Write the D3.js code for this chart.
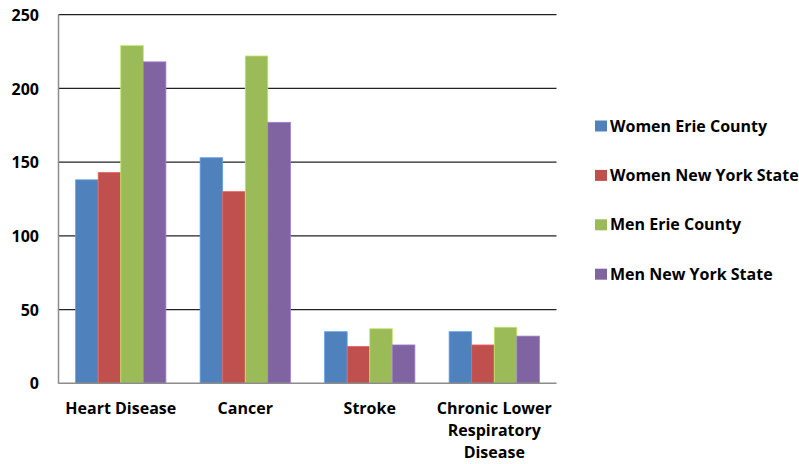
<!DOCTYPE html>
<html><head><meta charset="utf-8">
<script src="https://cdn.jsdelivr.net/npm/d3@7/dist/d3.min.js"></script>
<style>body{margin:0;background:#fff;} text{font-family:"Open Sans","Lato",sans-serif;font-weight:bold;fill:#000;}</style>
</head><body>
<svg id="chart" width="799" height="464"></svg>
<script>
const categories = [["Heart Disease"], ["Cancer"], ["Stroke"], ["Chronic Lower", "Respiratory", "Disease"]];
const seriesNames = ["Women Erie County", "Women New York State", "Men Erie County", "Men New York State"];
const seriesColors = ["#4F81BD", "#C0504D", "#9BBB59", "#8064A2"];
const womenErie = [138, 153, 35, 35];
const womenNYS = [143, 130, 25, 26];
const menErie = [229, 222, 37, 38];
const menNYS = [218, 177, 26, 32];
const yTicks = [0, 50, 100, 150, 200, 250];

(function () {
const series = [womenErie, womenNYS, menErie, menNYS];
const svg = d3.select("#chart");
const pL = 58.5, pR = 556.5, pT = 14.7, pB = 383.3;
const catKeys = categories.map((c, i) => i);
const x = d3.scaleBand().domain(catKeys).range([pL, pR]).paddingInner(0.275).paddingOuter(0.1375);
const xs = d3.scaleBand().domain(d3.range(series.length)).range([0, x.bandwidth()]);
const y = d3.scaleLinear().domain([0, 250]).range([pB, pT]);

svg.append("g").selectAll("line").data(yTicks.filter(t => t > 0)).join("line")
  .attr("x1", pL).attr("x2", pR).attr("y1", d => y(d)).attr("y2", d => y(d))
  .attr("stroke", "#222").attr("stroke-width", 1.2);

const yAxis = d3.axisLeft(y).tickValues(yTicks).tickSize(0).tickPadding(19.5);
const gy = svg.append("g").attr("transform", `translate(${pL},0)`).call(yAxis);
gy.select(".domain").remove();
gy.attr("font-family", null).attr("font-size", null);
gy.selectAll("text").style("font-size", "16px").attr("dy", "0.35em");

series.forEach((s, si) => {
  svg.append("g").selectAll("rect").data(s).join("rect")
    .attr("x", (d, i) => x(i) + xs(si))
    .attr("y", d => y(d))
    .attr("width", xs.bandwidth())
    .attr("height", d => y(0) - y(d))
    .attr("fill", seriesColors[si])
    .attr("stroke", d3.color(seriesColors[si]).brighter(0.6))
    .attr("stroke-width", 0.8);
});

svg.append("line").attr("x1", pL).attr("x2", pL).attr("y1", pT).attr("y2", pB + 0.5)
  .attr("stroke", "#8c8c8c").attr("stroke-width", 1.5);
svg.append("line").attr("x1", pL).attr("x2", pR).attr("y1", pB).attr("y2", pB)
  .attr("stroke", "#8c8c8c").attr("stroke-width", 1.5);

const xAxis = svg.append("g");
categories.forEach((lines, i) => {
  const cx = x(i) + x.bandwidth() / 2;
  const t = xAxis.append("text").attr("text-anchor", "middle").style("font-size", "16px")
    .attr("x", cx).attr("y", 414);
  lines.forEach((ln, li) => t.append("tspan").attr("x", cx).attr("dy", li === 0 ? 0 : 22).text(ln));
});

const lg = svg.append("g");
seriesNames.forEach((n, i) => {
  const cy = 126 + i * 49.4;
  lg.append("rect").attr("x", 595).attr("y", cy - 5.5).attr("width", 12).attr("height", 11).attr("fill", seriesColors[i]);
  lg.append("text").attr("x", 610).attr("y", cy).attr("dy", "0.35em").style("font-size", "16px").text(n);
});
})();
</script>
</body></html>
